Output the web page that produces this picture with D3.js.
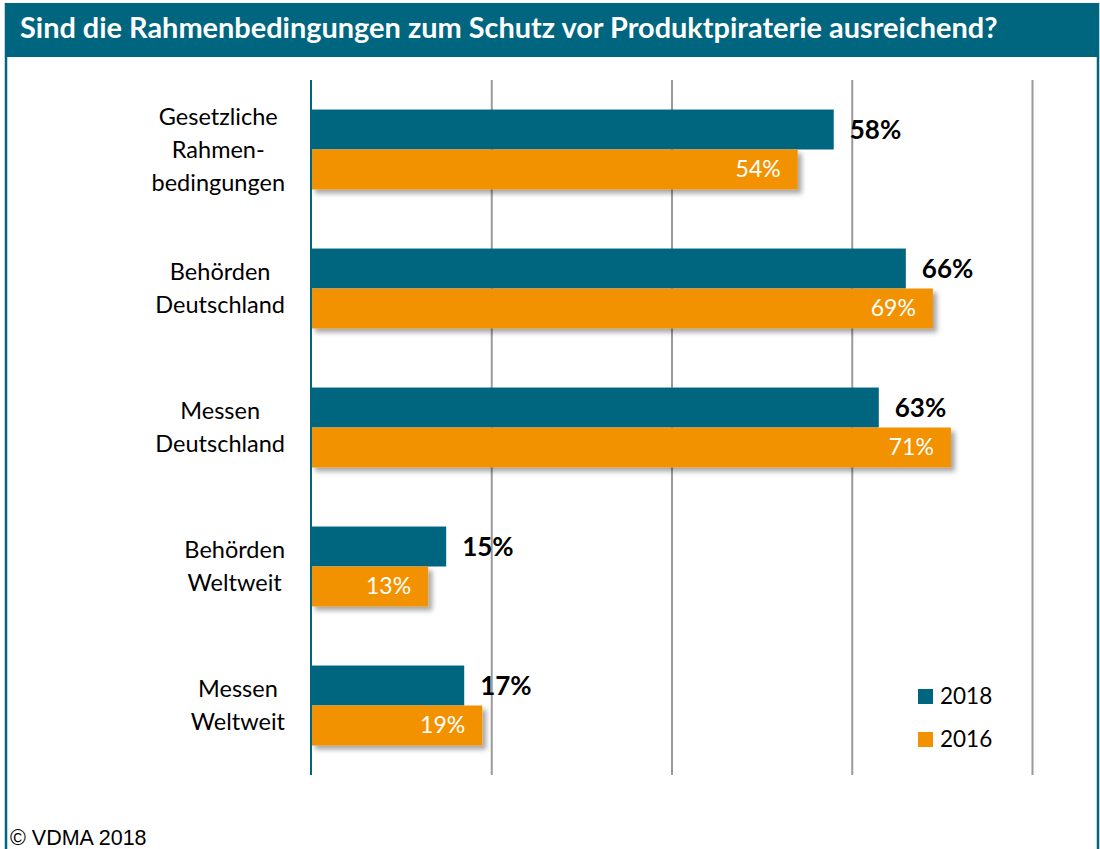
<!DOCTYPE html>
<html><head><meta charset="utf-8">
<script src="https://cdn.jsdelivr.net/npm/d3@7"></script>
<style>body{margin:0;background:#fff}svg{display:block}</style>
</head><body>
<script>
const title = "Sind die Rahmenbedingungen zum Schutz vor Produktpiraterie ausreichend?";
const categories = [
  ["Gesetzliche","Rahmen-","bedingungen"],
  ["Behörden","Deutschland"],
  ["Messen","Deutschland"],
  ["Behörden","Weltweit"],
  ["Messen","Weltweit"]
];
const seriesNames = ["2018","2016"];
const values2018 = [58,66,63,15,17];
const values2016 = [54,69,71,13,19];
const xTicks = [0,20,40,60,80];
const source = "© VDMA 2018";

const W=1100,H=849;
const teal="#00657f", orange="#f39200";
const svg=d3.select("body").append("svg").attr("width",W).attr("height",H);
const defs=svg.append("defs");
const f=defs.append("filter").attr("id","sh").attr("x","-10%").attr("y","-30%").attr("width","130%").attr("height","180%");
f.append("feDropShadow").attr("dx",4).attr("dy",4).attr("stdDeviation",2.5).attr("flood-color","#000").attr("flood-opacity",0.35);

// frame
svg.append("rect").attr("x",5).attr("y",3).attr("width",1094).attr("height",54).attr("fill",teal);
svg.append("line").attr("x1",6).attr("x2",6).attr("y1",3).attr("y2",H).attr("stroke",teal).attr("stroke-width",2.5);
svg.append("line").attr("x1",1098).attr("x2",1098).attr("y1",3).attr("y2",H).attr("stroke",teal).attr("stroke-width",2.5);
const tt=svg.append("text").attr("x",20).attr("y",38).attr("fill","#fff")
  .style("font-family","Lato").style("font-weight","bold").style("font-size","25px").text(title);
const tw=tt.node().getComputedTextLength();
tt.style("font-size",(25*978/tw).toFixed(2)+"px");

const x=d3.scaleLinear().domain([0,80]).range([311,1032]);
const catIdx=categories.map((d,i)=>i);
const y=d3.scaleBand().domain(catIdx).range([80,775]).paddingInner(0.425).paddingOuter(0.2125);
const ys=d3.scaleBand().domain(seriesNames).range([0,y.bandwidth()]);

// grid
const grid=svg.append("g").attr("transform","translate(0,775)")
  .call(d3.axisBottom(x).tickValues(xTicks).tickSize(-695).tickFormat(""));
grid.select(".domain").remove();
grid.selectAll(".tick line").attr("stroke","#9a9a9a").attr("stroke-width",2);
grid.selectAll(".tick").filter(d=>d===0).remove();

const data=catIdx.map(i=>({i,v:[values2018[i],values2016[i]]}));
const colors=[teal,orange];
seriesNames.forEach((s,k)=>{
  svg.append("g").selectAll("rect").data(data).join("rect")
    .attr("x",x(0)).attr("y",d=>y(d.i)+ys(s))
    .attr("width",d=>x(d.v[k])-x(0)).attr("height",ys.bandwidth())
    .attr("fill",colors[k]).attr("filter",k===1?"url(#sh)":null);
});
// axis line
svg.append("line").attr("x1",x(0)).attr("x2",x(0)).attr("y1",80).attr("y2",775).attr("stroke",teal).attr("stroke-width",2);

// value labels
svg.append("g").selectAll("text").data(data).join("text")
  .attr("x",d=>x(d.v[0])+16).attr("y",d=>y(d.i)+ys("2018")+ys.bandwidth()/2+9)
  .style("font-family","Lato").style("font-weight","bold").style("font-size","26px").attr("fill","#000")
  .text(d=>d.v[0]+"%");
svg.append("g").selectAll("text").data(data).join("text")
  .attr("x",d=>x(d.v[1])-17).attr("y",d=>y(d.i)+ys("2016")+ys.bandwidth()/2+8)
  .attr("text-anchor","end")
  .style("font-family","Lato").style("font-size","23px").attr("fill","#fff")
  .text(d=>d.v[1]+"%");

// category labels
const lh=33;
categories.forEach((lines,i)=>{
  const g=svg.append("g");
  const ts=lines.map((l,j)=>g.append("text").attr("text-anchor","middle")
    .style("font-family","Lato").style("font-size","23.5px").attr("fill","#000").text(l));
  const mw=d3.max(ts,t=>t.node().getComputedTextLength());
  const cx=285-mw/2;
  const cy=y(i)+y.bandwidth()/2;
  ts.forEach((t,j)=>t.attr("x",cx).attr("y",cy+(j-(lines.length-1)/2)*lh+8));
});

// legend
seriesNames.forEach((s,k)=>{
  svg.append("rect").attr("x",918).attr("y",689+k*43).attr("width",15).attr("height",15).attr("fill",colors[k]);
  svg.append("text").attr("x",940).attr("y",704+k*43).style("font-family","Lato").style("font-size","22.5px").attr("fill","#000").text(s);
});

svg.append("text").attr("x",10).attr("y",845).style("font-family","Liberation Sans").style("font-size","21.5px").attr("fill","#000").text(source);
</script>
</body></html>
